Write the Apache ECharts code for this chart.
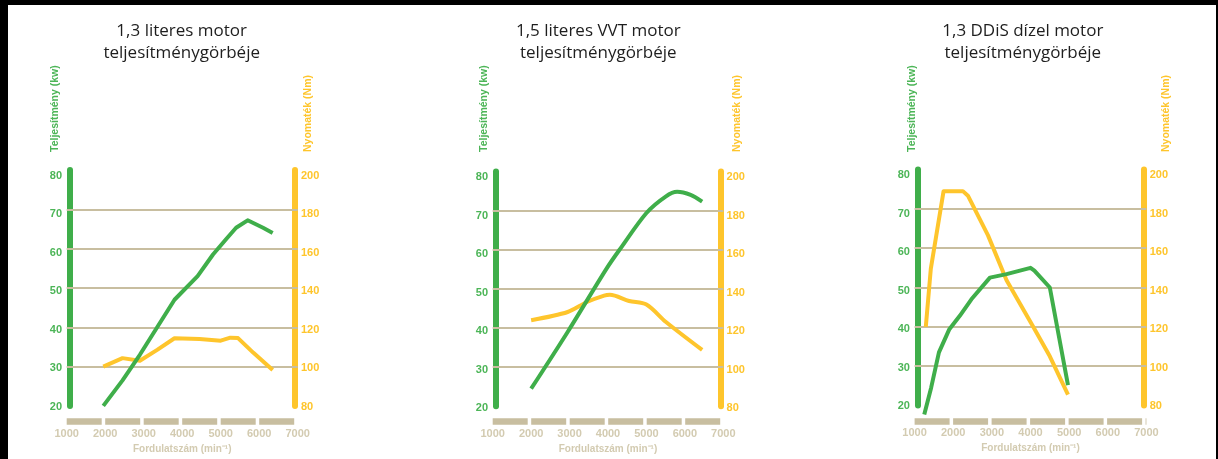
<!DOCTYPE html>
<html>
<head>
<meta charset="utf-8">
<script src="https://cdn.jsdelivr.net/npm/echarts@6/dist/echarts.min.js"></script>
<style>
html,body{margin:0;padding:0;background:#fff;}
#chart{width:1218px;height:459px;}
</style>
</head>
<body>
<div id="chart"></div>
<script>
// ---- data ----
const titles = ['1,3 literes motor\nteljesítménygörbéje', '1,5 literes VVT motor\nteljesítménygörbéje', '1,3 DDiS dízel motor\nteljesítménygörbéje'];
const xTicks = [1000, 2000, 3000, 4000, 5000, 6000, 7000];
const kwTicks = [20, 30, 40, 50, 60, 70, 80];
const nmTicks = [80, 100, 120, 140, 160, 180, 200];
const xName = 'Fordulatszám (min⁻¹)';
const kwName = 'Teljesítmény (kw)';
const nmName = 'Nyomaték (Nm)';

// 1,3 literes motor
const p1KwRpm = [1950, 2450, 2900, 3350, 3800, 4400, 4800, 5150, 5400, 5700, 6100, 6350];
const p1Kw    = [20, 26.5, 33, 40, 47, 53, 58.5, 62.5, 65.3, 67.2, 65.3, 64];
const p1NmRpm = [1950, 2450, 2900, 3350, 3800, 4450, 5000, 5250, 5450, 5850, 6350];
const p1Nm    = [100, 104.3, 103, 108.5, 114.4, 114, 113.2, 114.7, 114.5, 107, 98.3];

// 1,5 literes VVT motor
const p2KwRpm = [2000, 2950, 3950, 4300, 5000, 5500, 5800, 6150, 6450];
const p2Kw    = [24.5, 39, 55, 60, 69.4, 73.6, 74.8, 74, 72.3];
const p2NmRpm = [2000, 2950, 3450, 3900, 4050, 4550, 5000, 5500, 6450];
const p2Nm    = [124, 128.2, 133.3, 136.6, 137, 133.8, 132, 123.2, 108.8];

// 1,3 DDiS dízel motor
const p3KwRpm = [1250, 1430, 1630, 1900, 2170, 2470, 2950, 3380, 4000, 4100, 4500, 4970];
const p3Kw    = [17.7, 24.6, 33.5, 39.4, 42.8, 47, 52.5, 53.4, 55, 54.3, 50, 25.2];
const p3NmRpm = [1290, 1420, 1750, 2250, 2380, 2900, 3380, 4070, 4500, 4970];
const p3Nm    = [120, 149.6, 189, 189, 186.7, 166.5, 143.7, 120, 105, 85.5];

const panelsData = [
  {kwRpm: p1KwRpm, kw: p1Kw, nmRpm: p1NmRpm, nm: p1Nm, smooth: false},
  {kwRpm: p2KwRpm, kw: p2Kw, nmRpm: p2NmRpm, nm: p2Nm, smooth: 0.3},
  {kwRpm: p3KwRpm, kw: p3Kw, nmRpm: p3NmRpm, nm: p3Nm, smooth: false}
];

// ---- layout ----
const layout = [
  {left: 66.7, width: 231, top: 170, bottom: 406, lblTop: 175.7, lblBottom: 406.7, xOff: 15.7, titleX: 181.7, kwX: 55, nmX: 308.3},
  {left: 492.7, width: 230.6, top: 171.5, bottom: 408.5, lblTop: 177.3, lblBottom: 408.3, xOff: 15.3, titleX: 598.3, kwX: 484.3, nmX: 737.3},
  {left: 914.6, width: 231.8, top: 169.5, bottom: 405.5, lblTop: 175, lblBottom: 406, xOff: 15.3, titleX: 1022.8, kwX: 911.7, nmX: 1165.7}
];

const GREEN = '#3fae4a';
const GREEN_TXT = '#4cb557';
const YELLOW = '#fec52c';
const BEIGE = '#c8bea0';
const BEIGE_TXT = '#d3cbb1';
const LABEL_FONT = 'Liberation Sans, Arial, sans-serif';

const grid = [], xAxis = [], yAxis = [], series = [], graphic = [];

graphic.push({type: 'rect', shape: {x: 0, y: 0, width: 1218, height: 5}, style: {fill: '#000'}, z: 100});
graphic.push({type: 'rect', shape: {x: 0, y: 0, width: 8, height: 459}, style: {fill: '#000'}, z: 100});
graphic.push({type: 'rect', shape: {x: 1216, y: 0, width: 2, height: 459}, style: {fill: '#000'}, z: 100});

layout.forEach((L, i) => {
  const d = panelsData[i];
  const gA = grid.length;
  grid.push({left: L.left, top: L.top, width: L.width, height: L.bottom - L.top});
  grid.push({left: L.left, top: L.lblTop, width: L.width, height: L.lblBottom - L.lblTop});
  const xA = xAxis.length;
  xAxis.push({
    gridIndex: gA, type: 'value', min: xTicks[0], max: xTicks[xTicks.length - 1], interval: 1000,
    offset: L.xOff,
    axisLine: {show: true, lineStyle: {color: BEIGE, width: 6.5, type: [35, 3.5], cap: 'butt'}},
    axisTick: {show: false}, splitLine: {show: false},
    axisLabel: {color: BEIGE_TXT, fontFamily: LABEL_FONT, fontWeight: 'bold', fontSize: 11, margin: 6.5,
      formatter: v => String(v)},
    name: xName, nameLocation: 'middle', nameGap: 22,
    nameTextStyle: {color: BEIGE_TXT, fontFamily: LABEL_FONT, fontWeight: 'bold', fontSize: 10}
  });
  xAxis.push({gridIndex: gA + 1, type: 'value', min: 1000, max: 7000, show: false});
  const yA = yAxis.length;
  // green bar (left)
  yAxis.push({gridIndex: gA, type: 'value', position: 'left', min: kwTicks[0], max: kwTicks[kwTicks.length - 1], interval: 10,
    offset: -3, z: 0,
    axisLine: {show: true, lineStyle: {color: GREEN, width: 6}}, axisTick: {show: false}, axisLabel: {show: false}, splitLine: {show: false}});
  // yellow bar (right)
  yAxis.push({gridIndex: gA, type: 'value', position: 'right', min: nmTicks[0], max: nmTicks[nmTicks.length - 1], interval: 20,
    offset: -3, z: 0,
    axisLine: {show: true, lineStyle: {color: YELLOW, width: 6}}, axisTick: {show: false}, axisLabel: {show: false}, splitLine: {show: false}});
  // grid lines on top of bars
  yAxis.push({gridIndex: gA, type: 'value', position: 'left', min: kwTicks[0], max: kwTicks[kwTicks.length - 1], interval: 10,
    z: 1, axisLine: {show: false}, axisTick: {show: false}, axisLabel: {show: false},
    splitLine: {show: true, showMinLine: false, showMaxLine: false, lineStyle: {color: BEIGE, width: 2}}});
  // labels
  yAxis.push({gridIndex: gA + 1, type: 'value', position: 'left', min: kwTicks[0], max: kwTicks[kwTicks.length - 1], interval: 10,
    axisLine: {show: false}, axisTick: {show: false}, splitLine: {show: false},
    axisLabel: {color: GREEN_TXT, fontFamily: LABEL_FONT, fontWeight: 'bold', fontSize: 11, margin: 4.7}});
  yAxis.push({gridIndex: gA + 1, type: 'value', position: 'right', min: nmTicks[0], max: nmTicks[nmTicks.length - 1], interval: 20,
    axisLine: {show: false}, axisTick: {show: false}, splitLine: {show: false},
    axisLabel: {color: YELLOW, fontFamily: LABEL_FONT, fontWeight: 'bold', fontSize: 11, margin: 3.3}});

  series.push({type: 'line', xAxisIndex: xA, yAxisIndex: yA + 1, clip: false, symbol: 'none', smooth: d.smooth, z: 3,
    lineStyle: {color: YELLOW, width: 4, join: 'round', cap: 'butt'},
    data: d.nmRpm.map((r, k) => [r, d.nm[k]])});
  series.push({type: 'line', xAxisIndex: xA, yAxisIndex: yA, clip: false, symbol: 'none', smooth: d.smooth, z: 4,
    lineStyle: {color: GREEN, width: 4, join: 'round', cap: 'butt'},
    data: d.kwRpm.map((r, k) => [r, d.kw[k]])});

  graphic.push({type: 'text', x: L.titleX, y: 42, z: 10,
    style: {text: titles[i], fill: '#1e1e1e', font: '17px "Open Sans", sans-serif', align: 'center', verticalAlign: 'middle', lineHeight: 22}});
  graphic.push({type: 'text', x: L.kwX, y: 152, rotation: Math.PI / 2, z: 10,
    style: {text: kwName, fill: GREEN_TXT, font: 'bold 10.5px ' + LABEL_FONT, align: 'left', verticalAlign: 'middle'}});
  graphic.push({type: 'text', x: L.nmX, y: 152, rotation: Math.PI / 2, z: 10,
    style: {text: nmName, fill: YELLOW, font: 'bold 10.5px ' + LABEL_FONT, align: 'left', verticalAlign: 'middle'}});
});

const chart = echarts.init(document.getElementById('chart'), null, {renderer: 'canvas'});
chart.setOption({
  backgroundColor: '#fff',
  animation: false,
  grid, xAxis, yAxis, series, graphic
});
</script>
</body>
</html>
